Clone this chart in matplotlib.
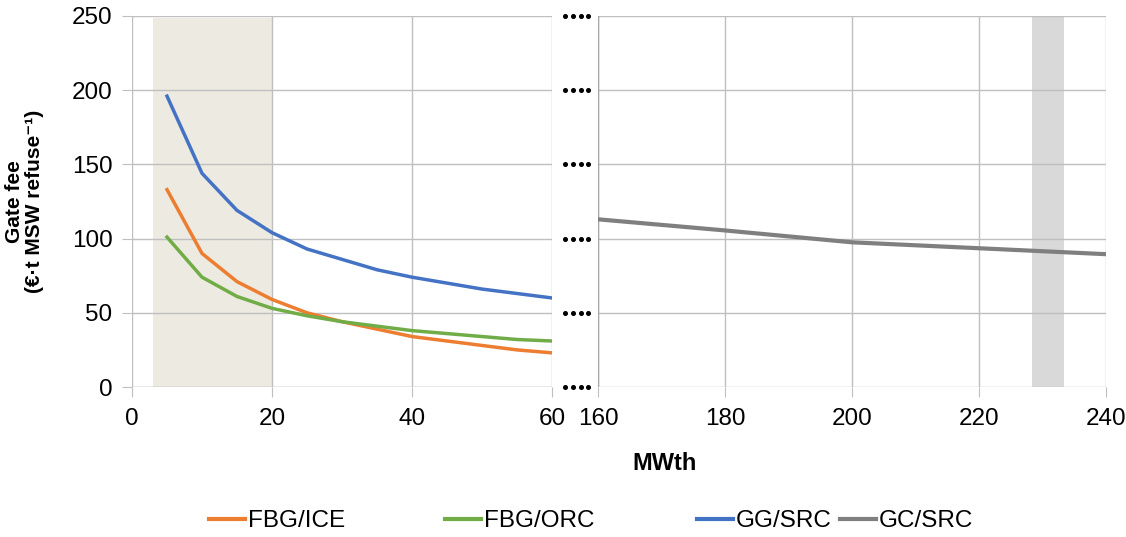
import numpy as np
import matplotlib.pyplot as plt
import matplotlib.transforms as mtransforms
from matplotlib.lines import Line2D

plt.rcParams['font.family'] = ['Liberation Sans', 'DejaVu Sans']

# small-scale plants (MWth)
x_small = [5, 10, 15, 20, 25, 30, 35, 40, 45, 50, 55, 60]
fbg_ice = [133, 90, 71, 59, 50, 44, 39, 34, 31, 28, 25, 23]
fbg_orc = [101, 74, 61, 53, 48, 44, 41, 38, 36, 34, 32, 31]
gg_src = [196, 144, 119, 104, 93, 86, 79, 74, 70, 66, 63, 60]

# large-scale plant
x_large = [160, 180, 200, 220, 240]
gc_src = [113, 105.5, 97.5, 93.5, 89.5]

shade_small = (3, 20)
shade_large = (228.3, 233.4)

yticks = [0, 50, 100, 150, 200, 250]
c_ice, c_orc, c_gg, c_gc = '#ED7D31', '#70AD47', '#4472C4', '#7F7F7F'
gridc = '#BFBFBF'

fig = plt.figure(figsize=(11.26, 5.37), dpi=100)
ax1 = fig.add_axes([132/1126, 1-387/537, 420/1126, 371/537])
ax2 = fig.add_axes([598/1126, 1-387/537, 508/1126, 371/537])

ax1.fill_between(shade_small, 0, 248.5, color='#EDEBE1', lw=0, zorder=0)
ax2.fill_between(shade_large, 0, 250, color='#D9D9D9', lw=0, zorder=0)

ax1.plot(x_small, fbg_ice, color=c_ice, lw=2.5, zorder=3)
ax1.plot(x_small, fbg_orc, color=c_orc, lw=2.5, zorder=3)
ax1.plot(x_small, gg_src, color=c_gg, lw=2.5, zorder=3)
ax2.plot(x_large, gc_src, color=c_gc, lw=3, zorder=3)

for ax, xl, xt in [(ax1, (0, 60), [0, 20, 40, 60]),
                   (ax2, (160, 240), [160, 180, 200, 220, 240])]:
    ax.set_xlim(*xl)
    ax.set_ylim(0, 250)
    ax.set_xticks(xt)
    ax.set_yticks(yticks)
    ax.grid(True, color=gridc, lw=1, zorder=1)
    ax.set_axisbelow(True)
    for s in ax.spines.values():
        s.set_visible(False)
    ax.tick_params(axis='both', direction='out', length=7, color=gridc,
                   labelsize=17.5)
    ax.tick_params(axis='x', pad=8)
    ax.tick_params(axis='y', pad=7)
    ax.set_facecolor('none')

ax1.axhline(0, color=gridc, lw=1, zorder=1)
ax2.tick_params(axis='y', length=0, labelleft=False)
ax2.axvline(160, color='#A6A6A6', lw=1, zorder=1)

ax1.set_ylabel('Gate fee\n(€·t MSW refuse⁻¹)', fontsize=15,
               fontweight='bold', labelpad=20, linespacing=1.1)
fig.text(665/1126, 1-463/537, 'MWth', fontsize=17, fontweight='bold',
         ha='center', va='center')

# axis-break dots
tr = mtransforms.blended_transform_factory(ax1.transAxes, ax1.transData)
dot_x = [(p - 132) / 420 for p in (565, 573, 581, 588)]
for yv in yticks:
    ax1.plot(dot_x, [yv] * 4, ls='none', marker='o', ms=2.6, color='black',
             transform=tr, clip_on=False)

# legend entries placed individually
labels = ['FBG/ICE', 'FBG/ORC', 'GG/SRC', 'GC/SRC']
colors = [c_ice, c_orc, c_gg, c_gc]
xpos = [209, 445, 697, 840]
for lab, col, xp in zip(labels, colors, xpos):
    h = Line2D([], [], color=col, lw=3)
    fig.legend([h], [lab], loc='center left', bbox_to_anchor=(xp/1126, 1-521/537),
               frameon=False, fontsize=17.5, handlelength=1.5, handletextpad=0.1,
               borderaxespad=0, borderpad=0)

fig.savefig('out.png', dpi=100)
